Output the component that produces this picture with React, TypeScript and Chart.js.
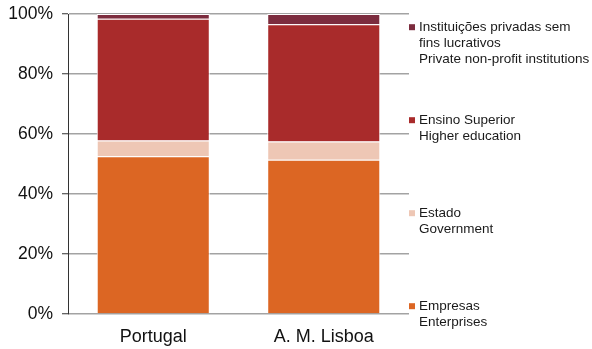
import React, { useEffect, useRef } from "react";
import { Chart, registerables } from "chart.js";

Chart.register(...registerables);

const categories = ["Portugal", "A. M. Lisboa"];
const empresas = [52.6, 51.4];
const estado = [5.2, 6.1];
const ensinoSuperior = [40.6, 39.1];
const ipsfl = [1.6, 3.4];
const yTicks = [0, 20, 40, 60, 80, 100];

const legendItems = [
  { color: "#7C2C3E", lines: ["Instituições privadas sem", "fins lucrativos", "Private non-profit institutions"] },
  { color: "#A92B2B", lines: ["Ensino Superior", "Higher education"] },
  { color: "#EEC7B5", lines: ["Estado", "Government"] },
  { color: "#DC6623", lines: ["Empresas", "Enterprises"] },
];

const legendPlugin = {
  id: "sideLegend",
  afterDraw(chart: any) {
    const ctx = chart.ctx;
    const y = chart.scales.y;
    const anchors = [95.6, 64.6, 33.6, 2.6];
    ctx.save();
    ctx.font = "13.5px 'Liberation Sans', Arial, sans-serif";
    ctx.textBaseline = "middle";
    legendItems.forEach((item, i) => {
      const top = y.getPixelForValue(anchors[i]);
      ctx.fillStyle = item.color;
      ctx.fillRect(409, top - 3, 6, 6);
      ctx.fillStyle = "#1a1a1a";
      item.lines.forEach((ln, j) => {
        ctx.fillText(ln, 419, top + j * 16);
      });
    });
    ctx.restore();
  },
};

export default function App() {
  const ref = useRef<HTMLCanvasElement | null>(null);
  useEffect(() => {
    if (!ref.current) return;
    const common = { borderColor: "#ffffff", borderWidth: 1, barPercentage: 0.663, categoryPercentage: 1 };
    const chart = new Chart(ref.current, {
      type: "bar",
      data: {
        labels: categories,
        datasets: [
          { label: "Empresas", data: empresas, backgroundColor: "#DC6623", ...common },
          { label: "Estado", data: estado, backgroundColor: "#EEC7B5", ...common },
          { label: "Ensino Superior", data: ensinoSuperior, backgroundColor: "#A92B2B", ...common },
          { label: "IPSFL", data: ipsfl, backgroundColor: "#7C2C3E", ...common },
        ],
      },
      options: {
        responsive: false,
        animation: false,
        devicePixelRatio: 1,
        layout: { padding: { top: 14, right: 183, left: 0, bottom: 0 } },
        plugins: { legend: { display: false }, tooltip: { enabled: false } },
        scales: {
          x: {
            stacked: true,
            grid: { display: false },
            border: { display: false },
            ticks: {
              color: "#111",
              padding: 4,
              font: { family: "'Liberation Sans', Arial, sans-serif", size: 18 },
            },
            afterFit: (s: any) => { s.height = 35; },
          },
          y: {
            stacked: true,
            min: 0,
            max: 100,
            afterBuildTicks: (s: any) => { s.ticks = yTicks.map((v) => ({ value: v })); },
            grid: { color: "#a3a3a3", lineWidth: 1.5, tickLength: 6, tickColor: "#333", tickWidth: 1 },
            border: { display: true, color: "#333", width: 1 },
            ticks: {
              color: "#111",
              padding: 9,
              font: { family: "'Liberation Sans', Arial, sans-serif", size: 17.5 },
              callback: (v: any) => v + "%",
            },
            afterFit: (s: any) => { s.width = 68; s.paddingTop = 0; s.paddingBottom = 0; },
          },
        },
      },
      plugins: [legendPlugin],
    });
    return () => chart.destroy();
  }, []);
  return (
    <div style={{ position: "absolute", left: 0, top: 0, width: 592, height: 349, background: "#fff" }}>
      <canvas ref={ref} width={592} height={349} />
    </div>
  );
}
